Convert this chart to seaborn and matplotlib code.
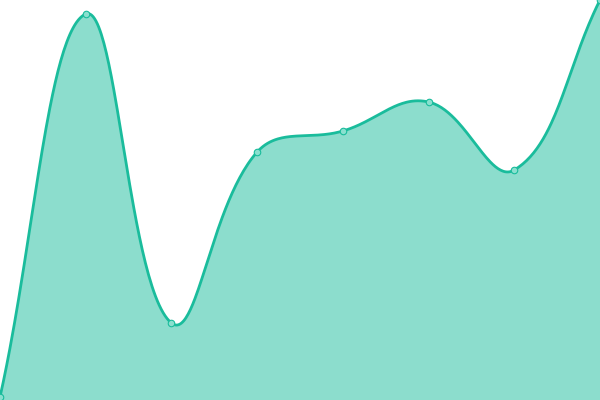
import numpy as np
import pandas as pd
import matplotlib
matplotlib.use("Agg")
import matplotlib.pyplot as plt
import seaborn as sns

# Data (y scale 0..100)
labels = ["A", "B", "C", "D", "E", "F", "G", "H"]
values = [0.75, 96.5, 19.25, 62.0, 67.25, 74.5, 57.5, 100.0]

LINE = "#1abc9c"
FILL = (26/255, 188/255, 156/255, 0.5)

sns.set_theme(style="white")
fig = plt.figure(figsize=(6, 4), dpi=100)
ax = fig.add_axes([0, 0, 1, 1])

n = len(values)
xs = np.arange(n, dtype=float)
ys = np.array(values, dtype=float)
XMAX, YMAX = n - 1, 100.0
W, H = 600.0, 400.0

# pixel-space coordinates for Chart.js-like spline (tension 0.4)
px = xs / XMAX * W
py = (YMAX - ys) / YMAX * H
t = 0.4
cp_prev = []
cp_next = []
for i in range(n):
    p0 = np.array([px[max(i - 1, 0)], py[max(i - 1, 0)]])
    p1 = np.array([px[i], py[i]])
    p2 = np.array([px[min(i + 1, n - 1)], py[min(i + 1, n - 1)]])
    d01 = np.hypot(*(p1 - p0))
    d12 = np.hypot(*(p2 - p1))
    tot = d01 + d12
    s01 = d01 / tot if tot else 0
    s12 = d12 / tot if tot else 0
    s01 = 0 if np.isnan(s01) else s01
    s12 = 0 if np.isnan(s12) else s12
    fa, fb = t * s01, t * s12
    cp_prev.append(np.clip(p1 - fa * (p2 - p0), [0, 0], [W, H]))
    cp_next.append(np.clip(p1 + fb * (p2 - p0), [0, 0], [W, H]))

cx, cy = [], []
tt = np.linspace(0, 1, 60)
for i in range(n - 1):
    P0 = np.array([px[i], py[i]])
    P1 = cp_next[i]
    P2 = cp_prev[i + 1]
    P3 = np.array([px[i + 1], py[i + 1]])
    for u in tt:
        b = ((1 - u) ** 3) * P0 + 3 * ((1 - u) ** 2) * u * P1 + 3 * (1 - u) * u * u * P2 + u ** 3 * P3
        cx.append(b[0])
        cy.append(b[1])
cx = np.array(cx) / W * XMAX
cy = YMAX - np.array(cy) / H * YMAX

ax.fill_between(cx, cy, 0, color=FILL, linewidth=0, zorder=1)
sns.lineplot(x=cx, y=cy, sort=False, color=LINE, linewidth=2.0, ax=ax, zorder=2)
df = pd.DataFrame({"x": xs, "y": ys, "label": labels})
sns.scatterplot(data=df, x="x", y="y", s=22, color="#8ae0cf", edgecolor=LINE,
                linewidth=0.8, ax=ax, zorder=3, clip_on=False)

ax.set_xlim(0, XMAX)
ax.set_ylim(0, YMAX)
ax.set_xticks([])
ax.set_yticks([])
ax.set_xlabel("")
ax.set_ylabel("")
for s in ax.spines.values():
    s.set_visible(False)

fig.savefig("out.png", dpi=100)
